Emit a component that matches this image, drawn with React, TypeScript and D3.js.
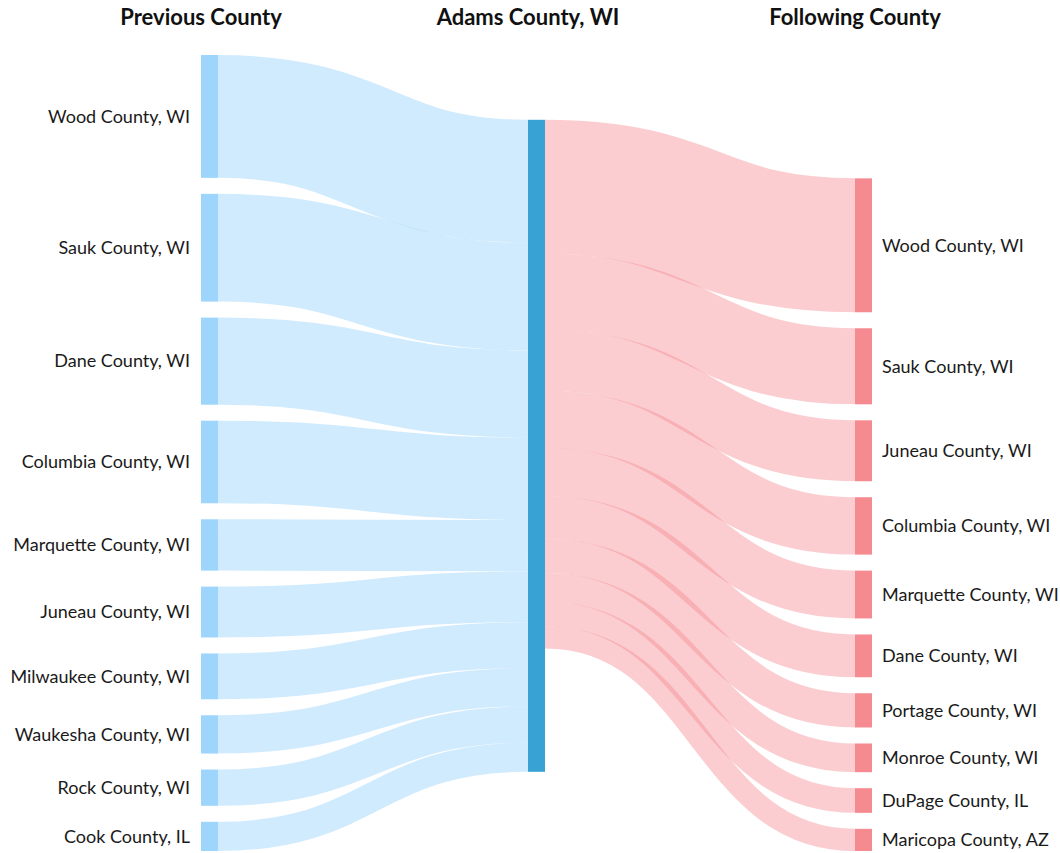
import React, { useEffect, useRef } from "react";
import * as d3 from "d3";

// column headers
const columnTitles = ["Previous County", "Adams County, WI", "Following County"];
const centerCounty = "Adams County, WI";

// where people came from before Adams County
const previousCounties = [
    "Wood County, WI",
    "Sauk County, WI",
    "Dane County, WI",
    "Columbia County, WI",
    "Marquette County, WI",
    "Juneau County, WI",
    "Milwaukee County, WI",
    "Waukesha County, WI",
    "Rock County, WI",
    "Cook County, IL"
];
const previousValues = [122, 107, 86.5, 82, 51, 50.5, 45.5, 38, 36, 29];

// where people went after Adams County
const followingCounties = [
    "Wood County, WI",
    "Sauk County, WI",
    "Juneau County, WI",
    "Columbia County, WI",
    "Marquette County, WI",
    "Dane County, WI",
    "Portage County, WI",
    "Monroe County, WI",
    "DuPage County, IL",
    "Maricopa County, AZ"
];
const followingValues = [133, 75.5, 60.5, 57, 47.5, 42.5, 34, 28.5, 24.5, 22];

const width = 1060;
const height = 853;

const leftNodeColor = "#9dd5fc";
const centerNodeColor = "#38a2d4";
const rightNodeColor = "#f58b91";

export default function App() {
    const svgRef: any = useRef();

    useEffect(() => {
        const svg = d3.select(svgRef.current);
        svg.selectAll("*").remove();

        const nodeWidth = 17;
        const nodePadding = 16;
        const top = 55;
        const bottom = 851;
        const x = d3.scaleLinear().domain([0, 2]).range([201, 855]);

        const leftSum = d3.sum(previousValues);
        const rightSum = d3.sum(followingValues);
        const ky = Math.min(
            (bottom - top - (previousValues.length - 1) * nodePadding) / leftSum,
            (bottom - top - (followingValues.length - 1) * nodePadding) / rightSum
        );

        // left column, stacked from the top
        let y = top;
        const leftNodes = previousCounties.map((name, i) => {
            const h = previousValues[i] * ky;
            const n = { name, y0: y, y1: y + h };
            y += h + nodePadding;
            return n;
        });

        // right column, pushed against the bottom
        y = bottom - (rightSum * ky + (followingValues.length - 1) * nodePadding);
        const rightNodes = followingCounties.map((name, i) => {
            const h = followingValues[i] * ky;
            const n = { name, y0: y, y1: y + h };
            y += h + nodePadding;
            return n;
        });

        const centerH = Math.max(leftSum, rightSum) * ky;
        const centerY0 = top + (bottom - top - centerH) * 0.45;
        const center = { name: centerCounty, y0: centerY0, y1: centerY0 + centerH };

        let cy = center.y0;
        const inLinks = leftNodes.map((n, i) => {
            const w = previousValues[i] * ky;
            const l = { sx: x(0) + nodeWidth, sy: n.y0 + w / 2, tx: x(1), ty: cy + w / 2, w };
            cy += w;
            return l;
        });
        cy = center.y0;
        const outLinks = rightNodes.map((n, i) => {
            const w = followingValues[i] * ky;
            const l = { sx: x(1) + nodeWidth, sy: cy + w / 2, tx: x(2), ty: n.y0 + w / 2, w };
            cy += w;
            return l;
        });

        const linkPath: any = d3
            .linkHorizontal<any, any>()
            .source((d) => [d.sx, d.sy])
            .target((d) => [d.tx, d.ty]);

        svg.append("g")
            .selectAll("path")
            .data(inLinks)
            .join("path")
            .attr("d", linkPath)
            .attr("fill", "none")
            .attr("stroke", leftNodeColor)
            .attr("stroke-opacity", 0.47)
            .attr("stroke-width", (d) => d.w);

        svg.append("g")
            .selectAll("path")
            .data(outLinks)
            .join("path")
            .attr("d", linkPath)
            .attr("fill", "none")
            .attr("stroke", rightNodeColor)
            .attr("stroke-opacity", 0.43)
            .attr("stroke-width", (d) => d.w);

        const drawColumn = (nodes: any[], col: number, color: string) => {
            svg.append("g")
                .selectAll("rect")
                .data(nodes)
                .join("rect")
                .attr("x", x(col))
                .attr("y", (d) => d.y0)
                .attr("width", nodeWidth)
                .attr("height", (d) => d.y1 - d.y0)
                .attr("fill", color);
        };
        drawColumn(leftNodes, 0, leftNodeColor);
        drawColumn([center], 1, centerNodeColor);
        drawColumn(rightNodes, 2, rightNodeColor);

        const labels = svg
            .append("g")
            .attr("font-family", "Lato, sans-serif")
            .attr("font-size", 18)
            .attr("fill", "#1a1a1a");
        labels
            .selectAll("text.left")
            .data(leftNodes)
            .join("text")
            .attr("class", "left")
            .attr("x", x(0) - 11)
            .attr("y", (d) => (d.y0 + d.y1) / 2)
            .attr("dy", "0.35em")
            .attr("text-anchor", "end")
            .text((d) => d.name);
        labels
            .selectAll("text.right")
            .data(rightNodes)
            .join("text")
            .attr("class", "right")
            .attr("x", x(2) + nodeWidth + 10)
            .attr("y", (d) => (d.y0 + d.y1) / 2)
            .attr("dy", "0.35em")
            .text((d) => d.name);

        svg.append("g")
            .attr("font-family", "Lato, sans-serif")
            .attr("font-size", 22)
            .attr("font-weight", "bold")
            .attr("fill", "#111")
            .selectAll("text")
            .data(columnTitles)
            .join("text")
            .attr("x", (d, i) => x(i))
            .attr("y", 25)
            .attr("text-anchor", "middle")
            .text((d) => d);
    }, []);

    return (
        <svg
            ref={svgRef}
            width={width}
            height={height}
            style={{ position: "absolute", left: 0, top: 0, background: "#fff" }}
        />
    );
}
